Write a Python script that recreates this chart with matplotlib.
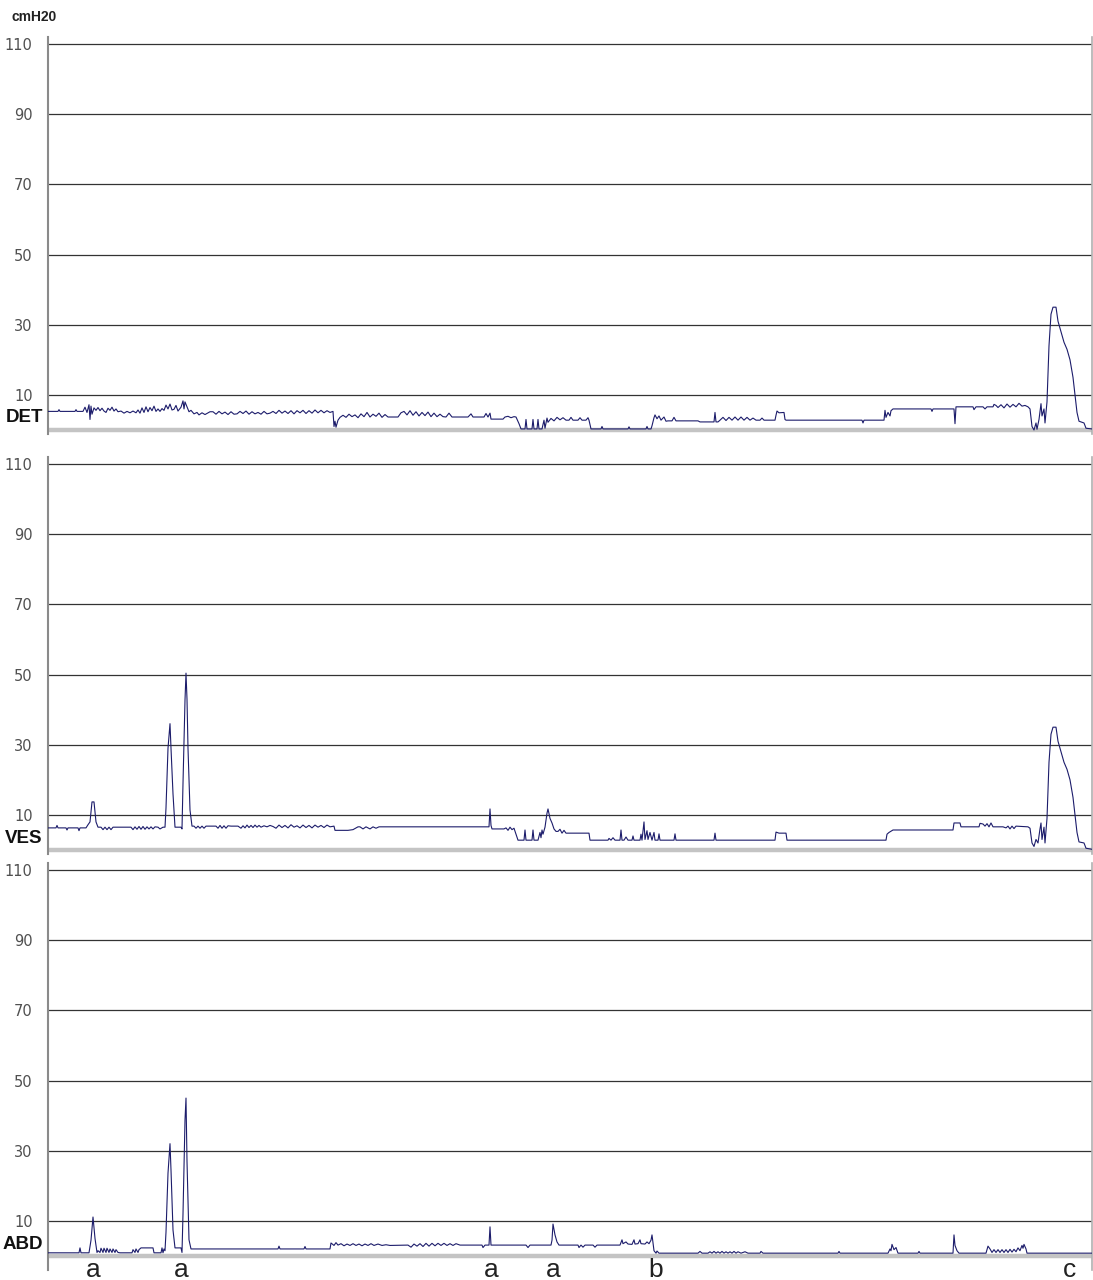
import matplotlib.pyplot as plt
import matplotlib.transforms as mtransforms

plt.rcParams['font.family'] = ['DejaVu Sans']

# time axis: arbitrary sample units (0 .. 1044)
det_t = [0, 10, 11, 12, 27, 28, 29, 35, 37, 39, 41, 42, 43, 44, 46, 48, 50, 52, 54, 56,
         58, 60, 62, 64, 66, 68, 70, 73, 76, 79, 82, 85, 88, 90, 92, 94, 96, 98, 100, 102,
         104, 106, 108, 110, 112, 114, 116, 118, 120, 122, 124, 126, 128, 130, 133, 135, 136, 137, 139, 141,
         143, 146, 149, 151, 154, 157, 160, 162, 165, 168, 171, 174, 177, 180, 183, 186, 189, 192, 195, 198,
         201, 204, 207, 210, 213, 216, 219, 222, 225, 228, 231, 234, 237, 240, 243, 246, 249, 252, 255, 258,
         261, 264, 267, 270, 273, 276, 279, 282, 285, 286, 287, 288, 290, 292, 295, 298, 301, 304, 307, 310,
         313, 316, 319, 322, 325, 328, 331, 334, 337, 340, 346, 350, 353, 356, 359, 362, 365, 368, 371, 374,
         377, 380, 383, 386, 389, 392, 395, 398, 401, 404, 408, 420, 423, 425, 432, 436, 438, 440, 442, 443,
         455, 457, 460, 463, 466, 468, 471, 473, 477, 478, 479, 484, 485, 486, 489, 490, 491, 494, 496, 497,
         499, 500, 503, 506, 509, 512, 515, 518, 521, 523, 525, 530, 532, 534, 538, 540, 541, 543, 553, 554,
         555, 580, 581, 582, 598, 599, 600, 603, 604, 606, 607, 609, 611, 613, 616, 618, 620, 624, 626, 628,
         632, 650, 652, 666, 667, 668, 670, 672, 675, 678, 681, 684, 687, 690, 693, 696, 699, 702, 705, 708,
         712, 714, 716, 727, 728, 729, 731, 736, 737, 738, 814, 815, 816, 836, 837, 838, 840, 842, 843, 845,
         883, 884, 885, 906, 907, 908, 925, 926, 928, 935, 937, 939, 945, 946, 948, 950, 953, 956, 959, 962,
         965, 968, 971, 974, 977, 980, 982, 984, 986, 988, 989, 991, 993, 994, 996, 997, 999, 1001, 1003, 1005,
         1008, 1010, 1013, 1016, 1019, 1022, 1025, 1027, 1029, 1031, 1036, 1038, 1044]
det_v = [5.3, 5.3, 5.8, 5.3, 5.3, 5.8, 5.3, 5.3, 6.5, 5.0, 7.2, 3.0, 6.8, 4.5, 6.3, 5.6, 6.4, 5.5, 6.2, 5.4,
         5.0, 6.2, 5.6, 6.5, 5.4, 6.0, 5.2, 5.4, 4.8, 5.3, 4.9, 5.4, 4.9, 5.7, 4.8, 6.3, 5.0, 6.6, 5.2, 6.4,
         5.5, 6.8, 5.3, 6.0, 5.3, 6.1, 5.6, 7.1, 6.0, 7.4, 5.7, 5.9, 7.0, 5.4, 6.5, 8.3, 6.0, 8.0, 6.6, 5.2,
         5.6, 4.6, 5.0, 4.3, 4.9, 4.4, 4.9, 5.2, 5.2, 4.5, 5.3, 4.6, 5.1, 4.4, 5.2, 4.5, 4.6, 5.3, 4.7, 5.4,
         4.5, 5.2, 4.6, 5.0, 4.5, 5.3, 4.6, 4.8, 5.3, 4.7, 5.6, 4.8, 5.4, 4.7, 5.5, 4.6, 5.5, 4.9, 5.6, 4.7,
         5.5, 4.8, 5.7, 4.9, 5.6, 4.9, 5.5, 5.0, 5.3, 1.0, 2.5, 0.8, 2.8, 3.6, 4.2, 3.6, 4.5, 3.8, 4.3, 3.5,
         4.6, 3.8, 5.0, 3.7, 4.5, 3.9, 4.8, 3.6, 4.4, 3.7, 3.7, 3.7, 4.9, 5.3, 4.3, 5.5, 4.2, 5.2, 4.0, 5.0,
         4.1, 5.1, 3.8, 4.8, 3.8, 4.5, 3.8, 3.7, 4.8, 3.7, 3.7, 3.7, 4.6, 3.7, 3.7, 3.7, 4.7, 3.7, 4.8, 3.1,
         3.1, 3.7, 3.9, 3.5, 3.8, 3.7, 1.8, 0.3, 0.3, 3.0, 0.3, 0.3, 3.0, 0.3, 0.3, 3.0, 0.3, 0.3, 2.8, 0.5,
         3.4, 2.2, 3.3, 2.6, 3.6, 2.9, 3.5, 2.8, 2.8, 3.6, 2.8, 2.8, 3.5, 2.8, 2.8, 3.5, 2.8, 0.3, 0.3, 1.0,
         0.3, 0.3, 0.9, 0.3, 0.3, 1.0, 0.3, 0.3, 1.2, 3.5, 4.3, 3.2, 4.0, 2.8, 3.7, 2.5, 2.6, 2.6, 3.6, 2.6,
         2.6, 2.6, 2.3, 2.3, 5.0, 2.3, 2.3, 2.8, 3.6, 2.7, 3.6, 2.8, 3.7, 2.8, 3.7, 2.8, 3.6, 2.8, 3.4, 2.8,
         2.8, 3.4, 2.8, 2.8, 4.2, 5.4, 4.9, 5.0, 3.0, 2.8, 2.8, 2.0, 2.8, 2.8, 5.6, 3.6, 5.0, 4.0, 5.5, 6.0,
         6.0, 5.3, 6.0, 6.0, 1.8, 6.6, 6.6, 5.8, 6.6, 6.6, 6.0, 6.6, 6.6, 7.3, 7.0, 6.4, 7.2, 6.3, 7.4, 6.5,
         7.3, 6.6, 7.6, 6.8, 7.0, 6.6, 6.0, 1.0, 0.0, 2.0, 0.2, 3.0, 7.5, 4.0, 6.0, 2.0, 8.0, 24.0, 33.0, 35.0,
         35.0, 31.0, 28.0, 25.0, 23.0, 20.0, 15.0, 10.0, 5.0, 2.5, 2.0, 0.5, 0.3]

ves_t = [0, 8, 9, 10, 18, 19, 20, 30, 31, 32, 38, 40, 42, 44, 46, 48, 50, 53, 55, 57,
         59, 61, 63, 65, 72, 83, 85, 87, 89, 91, 93, 95, 97, 99, 101, 103, 105, 107, 110, 112,
         115, 117, 118, 120, 122, 123, 125, 127, 133, 134, 135, 137, 138, 139, 140, 142, 144, 146, 148, 150,
         152, 154, 156, 158, 168, 170, 172, 174, 176, 178, 180, 183, 190, 193, 195, 197, 199, 201, 203, 205,
         207, 209, 211, 213, 216, 219, 222, 225, 228, 231, 234, 237, 240, 243, 246, 249, 252, 255, 258, 261,
         264, 267, 270, 273, 276, 279, 282, 286, 287, 300, 305, 310, 312, 315, 318, 322, 325, 328, 331,
         441, 442, 443, 444, 456, 458, 460, 462, 464, 466, 468, 470, 476, 477, 478, 484, 485, 486, 490, 492,
         493, 494, 495, 497, 499, 500, 502, 504, 506, 508, 510, 512, 514, 516, 518, 541, 542, 560, 561, 563,
         565, 567, 572, 573, 574, 576, 578, 580, 584, 585, 586, 592, 593, 594, 596, 597, 599, 600, 602, 604,
         606, 607, 610, 611, 612, 626, 627, 628, 666, 667, 668, 727, 728, 731, 738, 739, 838, 839, 841, 845,
         905, 906, 912, 913, 931, 932, 935, 937, 939, 941, 943, 945, 955, 958, 960, 962, 964, 966, 968, 980,
         982, 984, 986, 988, 990, 992, 993, 994, 996, 997, 999, 1001, 1003, 1005, 1008, 1010, 1013, 1016, 1019, 1022,
         1025, 1027, 1029, 1031, 1036, 1038, 1044]
ves_v = [6.3, 6.3, 7.0, 6.3, 6.3, 5.7, 6.3, 6.3, 5.5, 6.3, 6.3, 7.2, 8.0, 13.7, 13.7, 8.0, 6.5, 6.5, 5.8, 6.5,
         5.8, 6.5, 5.8, 6.5, 6.5, 6.5, 5.8, 6.6, 5.9, 6.7, 5.9, 6.7, 5.9, 6.6, 6.0, 6.6, 6.0, 6.6, 6.5, 6.0,
         6.5, 6.5, 12.0, 29.0, 36.0, 29.0, 16.0, 6.5, 6.5, 6.0, 19.0, 42.7, 50.4, 43.0, 29.0, 11.4, 6.8, 6.8, 6.2, 6.8,
         6.2, 6.8, 6.2, 6.8, 6.8, 6.2, 7.0, 6.2, 6.9, 6.2, 6.9, 6.8, 6.8, 6.2, 6.9, 6.3, 7.1, 6.4, 7.0, 6.4,
         7.1, 6.5, 7.0, 6.5, 6.9, 6.6, 7.0, 6.7, 6.2, 7.1, 6.4, 7.0, 6.3, 7.2, 6.5, 6.9, 6.3, 7.1, 6.4, 7.0,
         6.3, 7.1, 6.5, 7.0, 6.4, 7.1, 6.6, 6.8, 5.6, 5.6, 5.8, 6.6, 6.6, 6.0, 6.6, 6.0, 6.6, 6.2, 6.6,
         6.6, 11.7, 7.0, 6.0, 6.0, 6.3, 5.6, 6.5, 5.8, 6.2, 4.5, 2.8, 2.8, 5.7, 2.8, 2.8, 5.7, 2.8, 2.8, 5.0,
         3.5, 5.7, 4.5, 6.5, 10.5, 11.7, 9.0, 7.7, 6.0, 5.3, 5.3, 5.9, 4.8, 5.6, 4.8, 4.8, 2.8, 2.8, 3.3, 2.8,
         3.5, 2.8, 2.8, 5.7, 2.8, 2.8, 3.7, 2.8, 2.8, 4.0, 2.8, 2.8, 4.5, 2.8, 8.0, 3.0, 5.5, 3.0, 5.0, 2.8,
         5.0, 2.8, 2.8, 4.6, 2.8, 2.8, 4.6, 2.8, 2.8, 4.8, 2.8, 2.8, 5.1, 4.8, 4.8, 2.8, 2.8, 4.5, 5.0, 5.7,
         5.7, 7.7, 7.7, 6.6, 6.6, 7.6, 7.4, 6.8, 7.5, 6.6, 7.7, 6.6, 6.6, 6.3, 6.8, 6.0, 6.8, 6.1, 6.8, 6.6,
         6.2, 2.0, 1.0, 3.0, 2.0, 6.0, 7.7, 3.0, 6.5, 2.0, 9.0, 25.0, 33.0, 35.0, 35.0, 31.0, 28.0, 25.0, 23.0, 20.0,
         15.0, 10.0, 5.0, 2.3, 2.0, 0.5, 0.2]

abd_t = [0, 31, 32, 33, 41, 43, 45, 47, 49, 50, 52, 53, 55, 56, 58, 59, 61, 62, 64, 65,
         67, 68, 70, 72, 84, 85, 87, 88, 90, 91, 93, 105, 106, 113, 114, 115, 116, 117, 118, 120,
         122, 123, 125, 127, 133, 134, 135, 137, 138, 139, 141, 143, 230, 231, 232, 256, 257, 258, 282, 283,
         286, 288, 290, 293, 296, 299, 302, 305, 308, 311, 314, 317, 320, 323, 326, 330, 334, 338, 342, 360,
         363, 366, 369, 372, 375, 378, 381, 384, 387, 390, 393, 396, 399, 402, 405, 408, 412, 434, 435, 437,
         441, 442, 443, 478, 480, 482, 503, 504, 505, 507, 509, 511, 530, 531, 533, 535, 537, 545, 547, 549,
         572, 574, 575, 578, 580, 584, 586, 587, 590, 592, 593, 597, 599, 601, 603, 604, 605, 606, 608, 609,
         611, 650, 652, 654, 660, 662, 664, 666, 668, 670, 672, 674, 676, 678, 680, 682, 684, 686, 688, 690,
         693, 697, 700, 712, 713, 715, 790, 791, 792, 840, 842, 843, 844, 846, 848, 850, 870, 871, 872, 905,
         906, 907, 909, 911, 938, 940, 942, 944, 946, 948, 950, 952, 954, 956, 958, 960, 962, 964, 966, 968,
         970, 972, 974, 975, 976, 978, 979, 1044]
abd_v = [0.9, 0.9, 2.3, 0.9, 0.9, 4.5, 11.1, 5.0, 1.0, 1.5, 1.0, 2.2, 1.0, 2.2, 1.0, 2.2, 1.0, 2.0, 1.0, 2.0,
         1.0, 1.8, 1.0, 0.9, 0.9, 1.8, 1.0, 2.0, 1.0, 1.8, 2.3, 2.3, 0.9, 0.9, 2.3, 0.9, 2.0, 1.5, 6.8, 23.6,
         32.0, 24.5, 7.4, 2.3, 2.3, 1.0, 12.0, 38.7, 45.0, 27.0, 4.6, 2.0, 2.0, 2.8, 2.0, 2.0, 2.7, 2.0, 2.0, 3.7,
         3.0, 3.8, 3.1, 3.5, 2.9, 3.4, 3.0, 3.5, 3.0, 3.4, 2.9, 3.4, 3.0, 3.5, 3.0, 3.4, 3.0, 3.2, 3.0, 3.1,
         2.5, 3.4, 2.8, 3.5, 2.7, 3.6, 2.8, 3.6, 2.9, 3.6, 3.0, 3.6, 3.0, 3.5, 3.0, 3.5, 3.1, 3.1, 2.4, 3.1,
         3.1, 8.3, 3.1, 3.1, 2.4, 3.1, 3.1, 4.5, 9.1, 6.0, 4.0, 3.1, 3.1, 2.4, 3.1, 2.5, 3.1, 3.1, 2.5, 3.1,
         3.1, 4.6, 3.5, 4.0, 3.4, 3.3, 4.6, 3.4, 3.5, 4.6, 3.5, 3.4, 4.0, 3.5, 4.5, 6.0, 3.8, 1.5, 0.8, 1.4,
         0.8, 0.8, 1.3, 0.8, 0.8, 1.2, 0.8, 1.3, 0.8, 1.2, 0.8, 1.3, 0.8, 1.2, 0.8, 1.2, 0.8, 1.3, 0.8, 1.2,
         0.8, 1.2, 0.8, 0.8, 1.3, 0.8, 0.8, 1.3, 0.8, 0.8, 2.0, 1.5, 3.3, 1.8, 2.4, 0.8, 0.8, 1.3, 0.8, 0.8,
         6.0, 3.0, 1.5, 0.8, 0.8, 2.8, 2.0, 1.0, 1.8, 1.0, 1.8, 1.0, 1.8, 1.0, 1.8, 1.0, 1.9, 1.1, 1.9, 1.2,
         2.3, 1.5, 3.0, 2.2, 3.3, 2.0, 0.8, 0.8]

channels = ['DET', 'VES', 'ABD']
yticks = [10, 30, 50, 70, 90, 110]
event_t = [45, 133, 443, 505, 608, 1022]
event_labels = ['a', 'a', 'a', 'a', 'b', 'c']

W, H = 1093, 1280
fig = plt.figure(figsize=(W / 100, H / 100), dpi=100)

# axes rectangles in pixels: (top, bottom, ymin)
panels = [(37, 433.5, -1), (457, 853.5, -1), (863, 1270, -4)]
traces = [(det_t, det_v), (ves_t, ves_v), (abd_t, abd_v)]
label_y = [3.7, 3.4, 3.4]

axes = []
for i, (top, bot, ymin) in enumerate(panels):
    ax = fig.add_axes([48 / W, 1 - bot / H, 1044 / W, (bot - top) / H])
    ax.set_xlim(0, 1044)
    ax.set_ylim(ymin, 112)
    for y in yticks:
        ax.axhline(y, color='#333333', lw=0.9, zorder=1)
    ax.axhline(0.1, color='#c4c4c4', lw=3.2, zorder=2)
    t, v = traces[i]
    ax.plot(t, v, color='#1c1c6b', lw=0.8, zorder=3)
    ax.set_yticks(yticks)
    ax.set_xticks([])
    ax.tick_params(axis='y', length=0, pad=11, labelsize=10.5, labelcolor='#505050')
    for s in ['top', 'bottom']:
        ax.spines[s].set_visible(False)
    ax.spines['left'].set_color('#8a8a8a')
    ax.spines['left'].set_linewidth(1.5)
    ax.spines['right'].set_color('#b0b0b0')
    ax.spines['right'].set_linewidth(1.2)
    ax.text(-0.005, label_y[i], channels[i], transform=ax.get_yaxis_transform(),
            ha='right', va='center', fontsize=13.5, fontweight='bold',
            family=['Liberation Sans', 'DejaVu Sans'], color='#111111')
    axes.append(ax)

fig.text(12 / W, 1 - 17 / H, 'cmH20', fontsize=10, fontweight='bold',
         family=['Liberation Sans', 'DejaVu Sans'], color='#222222', va='center')

ax3 = axes[2]
trans = mtransforms.blended_transform_factory(ax3.transData, fig.transFigure)
for t, lab in zip(event_t, event_labels):
    ax3.text(t, 1 - 1270 / H, lab, transform=trans,
             ha='center', va='center', fontsize=19, color='#222222',
             family=['Liberation Sans', 'DejaVu Sans'])

fig.savefig('out.png', dpi=100)
